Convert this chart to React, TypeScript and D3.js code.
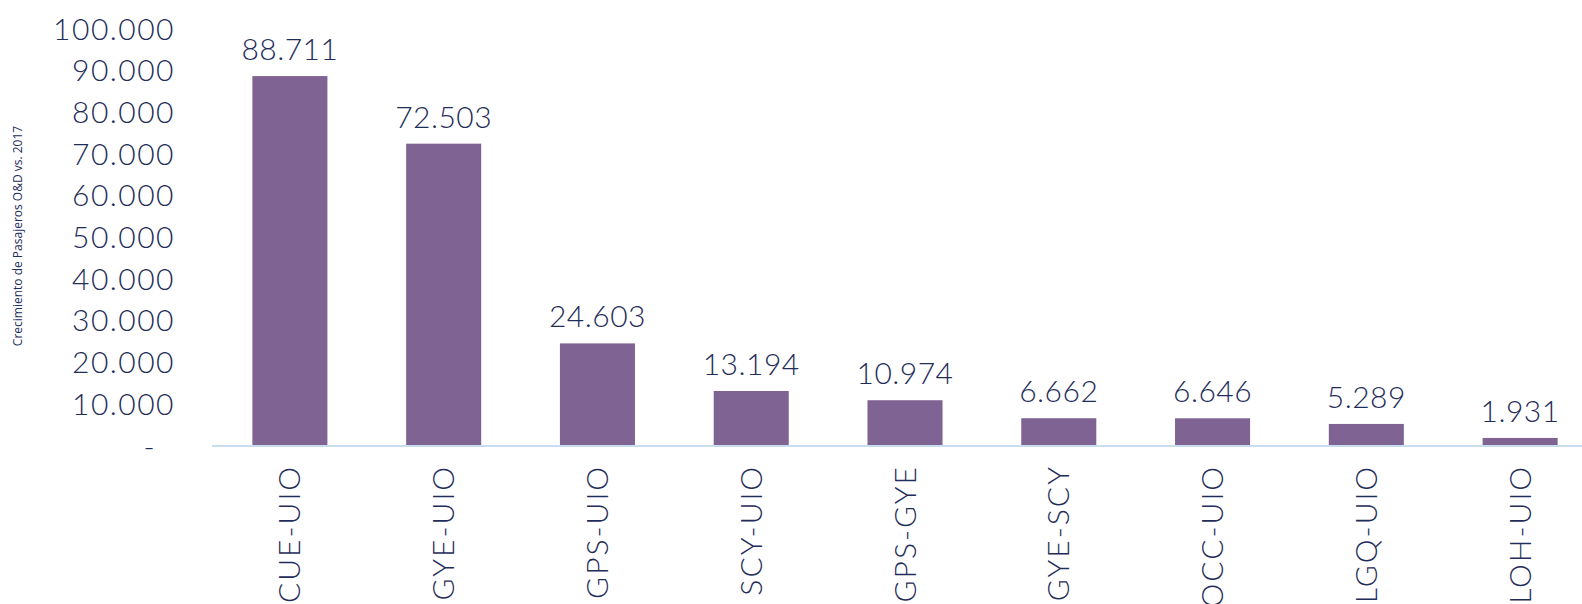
import React, { useEffect, useRef } from "react";
import * as d3 from "d3";

const routes = ["CUE-UIO", "GYE-UIO", "GPS-UIO", "SCY-UIO", "GPS-GYE", "GYE-SCY", "OCC-UIO", "LGQ-UIO", "LOH-UIO"];
const growth = [88711, 72503, 24603, 13194, 10974, 6662, 6646, 5289, 1931];
const yTicks = [0, 10000, 20000, 30000, 40000, 50000, 60000, 70000, 80000, 90000, 100000];
const yTitle = "Crecimiento de Pasajeros O&D vs. 2017";

const App = () => {
  const svgRef = useRef<SVGSVGElement>(null);

  useEffect(() => {
    const width = 1582;
    const height = 604;
    const baseY = 446;
    const textColor = "#1f2d5a";
    const font = "Lato, 'Open Sans', sans-serif";

    const locale = d3.formatLocale({ decimal: ",", thousands: ".", grouping: [3], currency: ["", ""] });
    const fmt = locale.format(",d");

    const svg = d3.select(svgRef.current).attr("width", width).attr("height", height);
    svg.selectAll("*").remove();

    const x = d3.scaleBand().domain(routes).range([213, 1597]).paddingInner(0.512).paddingOuter(0.256);
    const y = d3.scaleLinear().domain([0, 100000]).range([baseY, 29]);

    // y axis labels (no line)
    svg.append("g")
      .selectAll("text")
      .data(yTicks)
      .enter()
      .append("text")
      .attr("x", (d) => (d === 0 ? 156 : 175))
      .attr("y", (d) => y(d))
      .attr("dy", "0.35em")
      .attr("text-anchor", "end")
      .attr("font-family", font)
      .attr("font-weight", 300)
      .attr("letter-spacing", 1.5)
      .attr("font-size", 30)
      .attr("fill", textColor)
      .text((d) => (d === 0 ? "-" : fmt(d)));

    // axis title
    svg.append("text")
      .attr("transform", `translate(22,236) rotate(-90)`)
      .attr("text-anchor", "middle")
      .attr("font-family", "'Open Sans', sans-serif")
      .attr("font-size", 12)
      .attr("fill", textColor)
      .text(yTitle);

    // bars
    svg.append("g")
      .selectAll("rect")
      .data(growth)
      .enter()
      .append("rect")
      .attr("x", (d, i) => x(routes[i]) as number)
      .attr("y", (d) => y(d))
      .attr("width", x.bandwidth())
      .attr("height", (d) => baseY - y(d))
      .attr("fill", "#7f6393");

    // value labels
    svg.append("g")
      .selectAll("text")
      .data(growth)
      .enter()
      .append("text")
      .attr("x", (d, i) => (x(routes[i]) as number) + x.bandwidth() / 2)
      .attr("y", (d) => y(d) - 16)
      .attr("text-anchor", "middle")
      .attr("font-family", font)
      .attr("font-weight", 300)
      .attr("letter-spacing", 0.5)
      .attr("font-size", 30)
      .attr("fill", textColor)
      .text((d) => fmt(d));

    // baseline
    svg.append("line")
      .attr("x1", 212)
      .attr("x2", width)
      .attr("y1", baseY)
      .attr("y2", baseY)
      .attr("stroke", "#c8def0")
      .attr("stroke-width", 2);

    // category labels
    svg.append("g")
      .selectAll("text")
      .data(routes)
      .enter()
      .append("text")
      .attr("transform", (d) => `translate(${(x(d) as number) + x.bandwidth() / 2},465) rotate(-90)`)
      .attr("dy", "0.35em")
      .attr("text-anchor", "end")
      .attr("font-family", font)
      .attr("font-weight", 300)
      .attr("letter-spacing", 2)
      .attr("font-size", 30)
      .attr("fill", textColor)
      .text((d) => d);
  }, []);

  return (
    <div style={{ position: "absolute", left: 0, top: 0 }}>
      <svg ref={svgRef} style={{ display: "block" }}></svg>
    </div>
  );
};

export default App;
